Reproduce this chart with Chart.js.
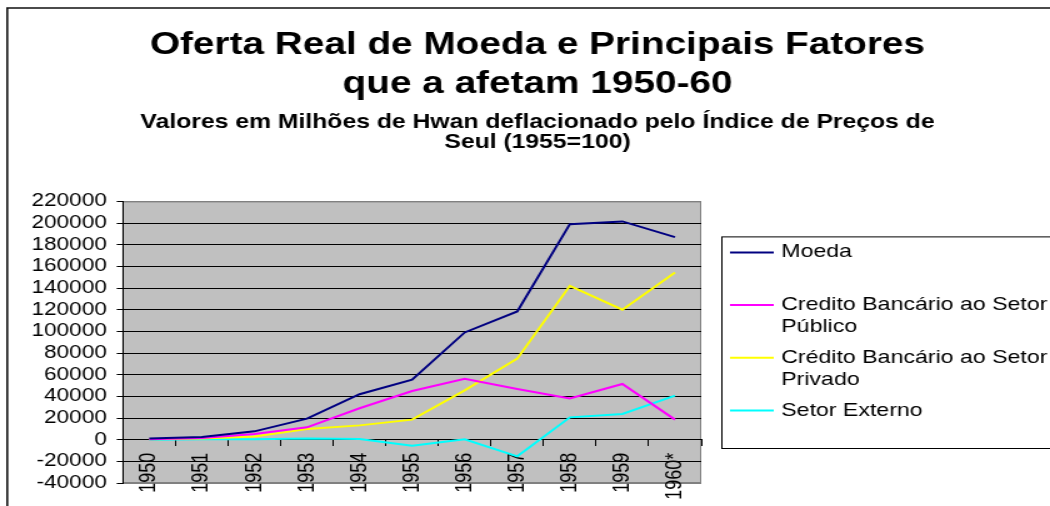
<!DOCTYPE html>
<html>
<head>
<meta charset="utf-8">
<script src="https://cdn.jsdelivr.net/npm/chart.js@4.4.1/dist/chart.umd.min.js"></script>
<style>
html, body { margin: 0; padding: 0; background: #fff; overflow: hidden; width: 1050px; height: 506px; }
#wrap { position: absolute; left: 0; top: 0; width: 840px; height: 506px; transform: scaleX(1.25); transform-origin: 0 0; }
canvas { display: block; }
</style>
</head>
<body>
<div id="wrap"><canvas id="c" width="840" height="506"></canvas></div>
<script>
// ---- data ----
const categories = ['1950', '1951', '1952', '1953', '1954', '1955', '1956', '1957', '1958', '1959', '1960*'];
const moeda      = [1000, 2500, 7700, 19400, 42000, 55400, 99000, 118400, 199000, 201500, 187000];
const credPublico = [500, 1500, 5200, 11400, 29000, 44900, 56300, 46800, 38100, 51400, 18500];
const credPrivado = [300, 1000, 3000, 9900, 13200, 18500, 45500, 74800, 142000, 120000, 154300];
const setorExterno = [0, 300, 500, 1200, 600, -5500, 300, -15400, 20600, 23700, 40600];
const seriesLabels = [
  ['Moeda'],
  ['Credito Bancário ao Setor', 'Público'],
  ['Crédito Bancário ao Setor', 'Privado'],
  ['Setor Externo']
];
const seriesColors = ['#000080', '#FF00FF', '#FFFF00', '#00FFFF'];
const titleLines = ['Oferta Real de Moeda e Principais Fatores', 'que a afetam 1950-60'];
const subtitleLines = ['Valores em Milhões de Hwan deflacionado pelo Índice de Preços de', 'Seul (1955=100)'];
const yMin = -40000, yMax = 220000, yStep = 20000;

const FAMILY = '"Liberation Sans", Arial, Helvetica, sans-serif';

const framePlugin = {
  id: 'frameAndPlot',
  beforeDraw(chart) {
    const { ctx, chartArea: a } = chart;
    ctx.save();
    ctx.fillStyle = '#fff';
    ctx.fillRect(0, 0, chart.width, chart.height);
    // outer frame (cut off on the right and bottom)
    ctx.strokeStyle = '#111';
    ctx.lineWidth = 1.6;
    ctx.beginPath();
    ctx.moveTo(5.8, chart.height + 5);
    ctx.lineTo(5.8, 8);
    ctx.lineTo(chart.width + 5, 8);
    ctx.stroke();
    // plot area
    ctx.fillStyle = '#C0C0C0';
    ctx.fillRect(a.left, a.top, a.right - a.left, a.bottom - a.top);
    ctx.strokeStyle = '#808080';
    ctx.lineWidth = 1;
    ctx.strokeRect(a.left, a.top + 0.5, a.right - a.left - 0.5, a.bottom - a.top - 1);
    ctx.restore();
  }
};

const legendPlugin = {
  id: 'boxLegend',
  afterDraw(chart) {
    const { ctx, chartArea: a } = chart;
    const left = a.right + 16, top = a.top + 35, bottom = a.bottom - 35;
    ctx.save();
    ctx.strokeStyle = '#000';
    ctx.lineWidth = 1;
    ctx.strokeRect(left + 0.5, top + 0.5, 600, bottom - top);
    ctx.font = '18.5px ' + FAMILY;
    ctx.textBaseline = 'middle';
    ctx.textAlign = 'left';
    chart.data.datasets.forEach((ds, i) => {
      const y = top + 16 + i * 52.7;
      ctx.strokeStyle = ds.borderColor;
      ctx.lineWidth = 2;
      ctx.beginPath();
      ctx.moveTo(left + 7, y);
      ctx.lineTo(left + 42, y);
      ctx.stroke();
      ctx.fillStyle = '#000';
      seriesLabels[i].forEach((line, j) => ctx.fillText(line, left + 48, y + j * 22));
    });
    ctx.restore();
  }
};

const seriesData = [moeda, credPublico, credPrivado, setorExterno];

new Chart(document.getElementById('c'), {
  type: 'line',
  data: {
    labels: categories,
    datasets: seriesData.map((d, i) => ({
      label: seriesLabels[i].join(' '),
      data: d,
      borderColor: seriesColors[i],
      backgroundColor: seriesColors[i],
      borderWidth: 2,
      pointRadius: 0,
      tension: 0,
      fill: false,
      yAxisID: 'y'
    }))
  },
  options: {
    responsive: false,
    animation: false,
    layout: { padding: { left: 20, right: 0, top: 0, bottom: 23 } },
    plugins: {
      legend: { display: false },
      tooltip: { enabled: false },
      title: {
        display: true,
        text: titleLines,
        color: '#000',
        font: { family: FAMILY, size: 31, weight: 'bold', lineHeight: 1.258 },
        padding: { top: 26, bottom: 0 }
      },
      subtitle: {
        display: true,
        text: subtitleLines,
        color: '#000',
        font: { family: FAMILY, size: 19.8, weight: 'bold', lineHeight: 1.02 },
        padding: { top: 8, bottom: 49 }
      }
    },
    scales: {
      x: {
        position: { y: 0 },
        offset: true,
        grid: { offset: true, drawOnChartArea: false, drawTicks: true, tickLength: 6, tickColor: '#000' },
        border: { display: true, color: '#000', width: 1 },
        ticks: { color: '#000', font: { family: FAMILY, size: 18 }, minRotation: 90, maxRotation: 90, autoSkip: false, padding: 7 },
        afterFit: s => { s.height = 0; }
      },
      y: {
        position: 'left',
        min: yMin,
        max: yMax,
        ticks: { stepSize: yStep, maxTicksLimit: 30, autoSkip: false, color: '#000', font: { family: FAMILY, size: 18 }, padding: 8, callback: v => String(v) },
        grid: {
          color: c => (c.tick && (c.tick.value === yMax || c.tick.value === yMin)) ? '#808080' : '#000',
          lineWidth: 1,
          tickLength: 5,
          tickColor: '#000'
        },
        border: { display: true, color: '#000', width: 1 },
        afterFit: s => { s.width = 78.4; }
      },
      ySpace: {
        type: 'linear',
        position: 'right',
        display: true,
        grid: { display: false },
        ticks: { display: false },
        border: { display: false },
        afterFit: s => { s.width = 279; }
      }
    }
  },
  plugins: [framePlugin, legendPlugin]
});
</script>
</body>
</html>
